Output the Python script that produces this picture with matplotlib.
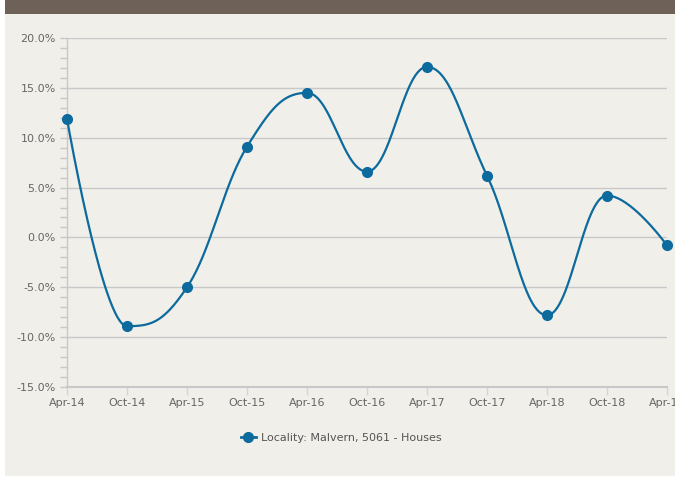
import numpy as np
import matplotlib
matplotlib.use("Agg")
import matplotlib.pyplot as plt
from matplotlib.patches import Rectangle
from matplotlib.lines import Line2D

categories = ["Apr-14", "Oct-14", "Apr-15", "Oct-15", "Apr-16", "Oct-16",
              "Apr-17", "Oct-17", "Apr-18", "Oct-18", "Apr-19"]
values = [11.9, -8.9, -5.0, 9.1, 14.5, 6.6, 17.1, 6.2, -7.8, 4.2, -0.8]
series_name = "Locality: Malvern, 5061 - Houses"
y_ticks = [-15, -10, -5, 0, 5, 10, 15, 20]

W, H = 675, 479
fig = plt.figure(figsize=(W / 100, H / 100), dpi=100)
fig.patch.set_facecolor("white")

def px(x0, y0, w, h):
    return [x0 / W, 1 - (y0 + h) / H, w / W, h / H]

# background panel and header
bg = fig.add_axes([0, 0, 1, 1], zorder=-10)
bg.set_xlim(0, W); bg.set_ylim(H, 0); bg.axis("off")
bg.add_patch(Rectangle((5, 0), W - 5, 476, color="#f0efea", lw=0))
bg.add_patch(Rectangle((5, 0), W - 5, 14, color="#6e6157", lw=0))

LINE = "#0d6a9c"
ax = fig.add_axes(px(67, 38, 600, 349))
ax.set_facecolor("none")


def highcharts_spline(xs, ys, smoothing=1.5):
    denom = smoothing + 1
    n = len(xs)
    lc = [None] * n
    rc = [None] * n
    for i in range(1, n - 1):
        lx, ly = xs[i - 1], ys[i - 1]
        nx, ny = xs[i + 1], ys[i + 1]
        x, y = xs[i], ys[i]
        lcx = (smoothing * x + lx) / denom
        lcy = (smoothing * y + ly) / denom
        rcx = (smoothing * x + nx) / denom
        rcy = (smoothing * y + ny) / denom
        if rcx != lcx:
            corr = ((rcy - lcy) * (rcx - x)) / (rcx - lcx) + y - rcy
            lcy += corr
            rcy += corr
        if lcy > ly and lcy > y:
            lcy = max(ly, y); rcy = 2 * y - lcy
        elif lcy < ly and lcy < y:
            lcy = min(ly, y); rcy = 2 * y - lcy
        if rcy > ny and rcy > y:
            rcy = max(ny, y); lcy = 2 * y - rcy
        elif rcy < ny and rcy < y:
            rcy = min(ny, y); lcy = 2 * y - rcy
        lc[i] = (lcx, lcy)
        rc[i] = (rcx, rcy)
    outx, outy = [xs[0]], [ys[0]]
    t = np.linspace(0, 1, 60)[1:]
    for i in range(1, n):
        p0 = (xs[i - 1], ys[i - 1])
        p1 = rc[i - 1] if rc[i - 1] is not None else p0
        p3 = (xs[i], ys[i])
        p2 = lc[i] if lc[i] is not None else p3
        bx = ((1 - t) ** 3 * p0[0] + 3 * (1 - t) ** 2 * t * p1[0]
              + 3 * (1 - t) * t ** 2 * p2[0] + t ** 3 * p3[0])
        by = ((1 - t) ** 3 * p0[1] + 3 * (1 - t) ** 2 * t * p1[1]
              + 3 * (1 - t) * t ** 2 * p2[1] + t ** 3 * p3[1])
        outx.extend(bx); outy.extend(by)
    return np.array(outx), np.array(outy)

xs = np.arange(len(categories), dtype=float)
ys = np.array(values, dtype=float)
# compute spline in pixel-proportional space (x scaled to pixel units)
sx = 600 / (len(categories) - 1)
sy = 349 / 35.0
cx, cy = highcharts_spline(xs * sx, ys * sy)
ax.plot(cx / sx, cy / sy, color=LINE, lw=1.6, zorder=3, clip_on=False,
        solid_capstyle="round")
ax.plot(xs, ys, "o", color=LINE, ms=7, zorder=4, clip_on=False)

ax.set_xlim(0, len(categories) - 1)
ax.set_ylim(-15, 20)
ax.set_yticks(y_ticks)
ax.set_yticklabels([f"{v:.1f}%" for v in y_ticks])
ax.set_yticks(np.arange(-15, 21, 1), minor=True)
ax.set_xticks(xs)
ax.set_xticklabels(categories)

ax.grid(axis="y", which="major", color="#c8c8c8", lw=1)
ax.set_axisbelow(True)
for s in ["top", "right"]:
    ax.spines[s].set_visible(False)
ax.spines["left"].set_color("#c8c8c8")
ax.spines["left"].set_linewidth(1)
ax.spines["bottom"].set_color("#c8c8c8")
ax.spines["bottom"].set_linewidth(1.5)

ax.tick_params(axis="y", which="major", length=5, width=1, color="#c8c8c8",
               labelsize=8, labelcolor="#666666", pad=3)
ax.tick_params(axis="y", which="minor", length=5, width=1, color="#c8c8c8")
ax.tick_params(axis="x", which="major", length=6, width=1, color="#ccd6eb",
               labelsize=8, labelcolor="#666666", pad=2)

# legend
handle = Line2D([0], [0], color=LINE, lw=2, marker="o", ms=7)
leg = fig.legend([handle], [series_name], loc="center",
                 bbox_to_anchor=(341 / W, 1 - 438 / H), frameon=False,
                 prop={"size": 8}, handlelength=1.4, handletextpad=0.4)
for t in leg.get_texts():
    t.set_color("#555555")

fig.savefig("out.png", dpi=100, facecolor=fig.get_facecolor())
